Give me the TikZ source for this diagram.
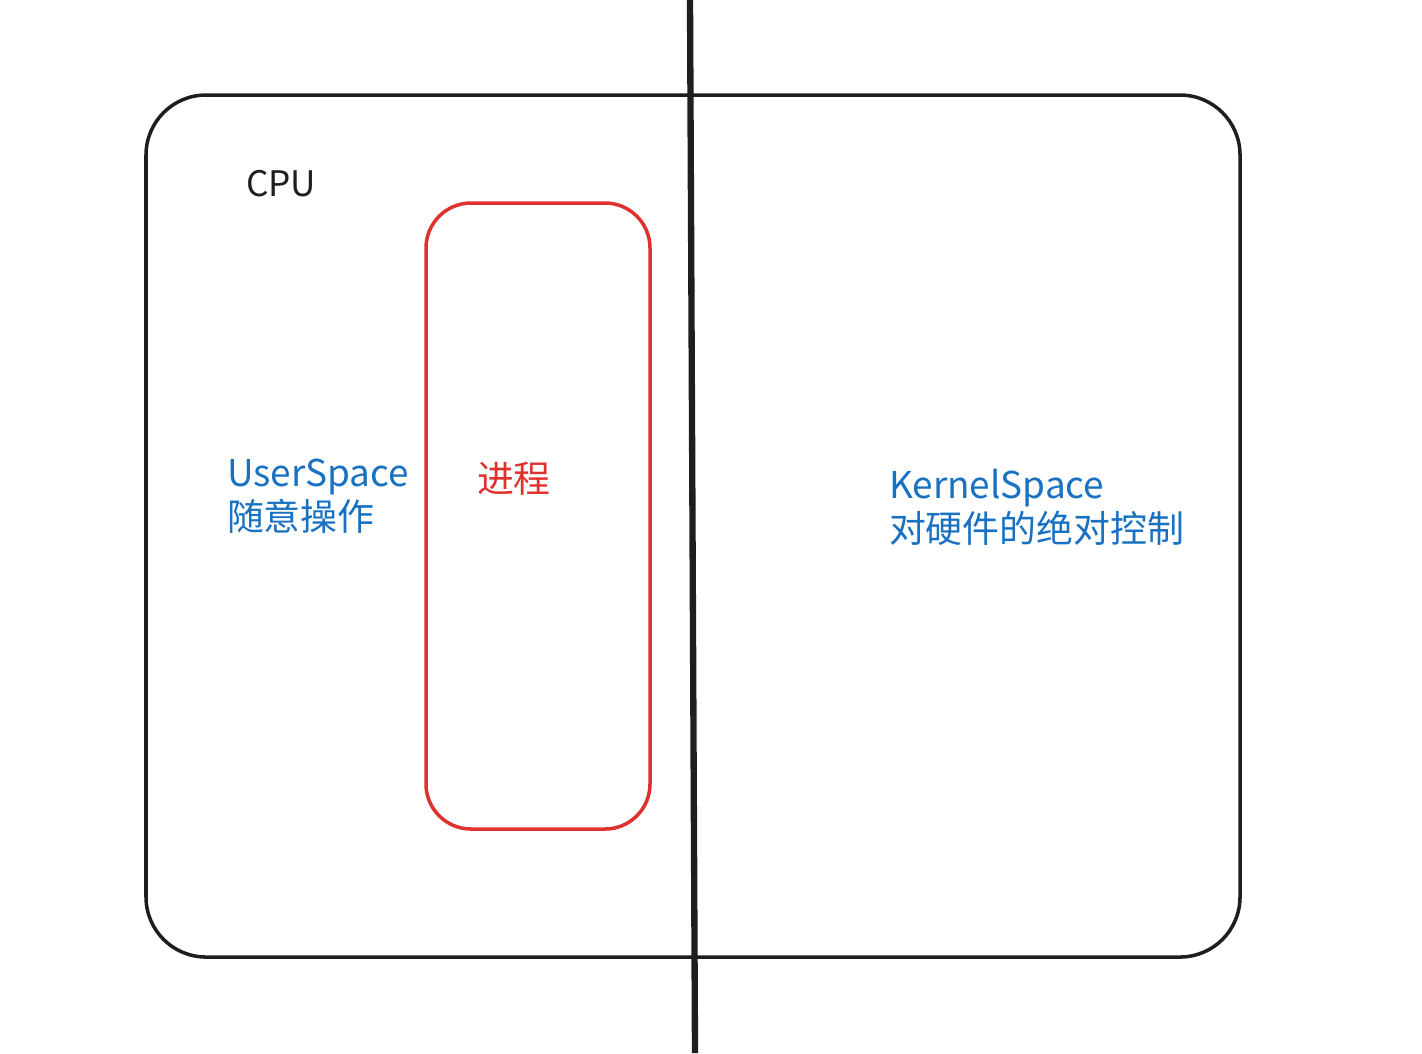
\documentclass[tikz,border=0pt]{standalone}
\usepackage{fontspec}
\setmainfont{Noto Sans CJK SC}
\usepackage{tikz}
\usetikzlibrary{positioning}
\definecolor{myblue}{RGB}{25, 113, 194}
\definecolor{myred}{RGB}{224, 49, 49}
\definecolor{myblack}{RGB}{30, 30, 30}
\tikzstyle{frame} = [draw=myblack, line width=1pt, rounded corners=0.6cm]
\tikzstyle{proc} = [draw=myred, line width=1pt, rounded corners=0.45cm]
\tikzstyle{divider} = [draw=myblack, line width=1.8pt]
\tikzstyle{bluetext} = [inner sep=0, outer sep=0, text=myblue, align=left,
    font=\fontsize{10.5pt}{12.4pt}\selectfont]
\tikzstyle{redtext} = [inner sep=0, outer sep=0, text=myred,
    font=\fontsize{10.5pt}{12.4pt}\selectfont]
\tikzstyle{label} = [inner sep=0, outer sep=0, text=myblack,
    font=\fontsize{10pt}{12pt}\selectfont]

\begin{document}
\begin{tikzpicture}[x=0.01cm, y=-0.01cm]
    \useasboundingbox (0,0) rectangle (1422,1053);

    % 1. Outer CPU box and the process box
    \draw[frame] (146,95) rectangle (1240,957);
    \draw[proc] (426,203) rectangle (650,829);

    % 2. Line between user and kernel side
    \coordinate (top) at (690,0);
    \coordinate (bottom) at (695,1053);
    \draw[divider] (top) -- (bottom);

    % 3. Texts
    \node[label, anchor=north west] (cpu) at (246,170) {CPU};
    \node[bluetext, anchor=north west] (user) at (227,459) {UserSpace\\随意操作};
    \node[redtext, anchor=north west] (proc) at (477,462) {进程};
    \node[bluetext, anchor=north west] (kernel) at (889,469) {KernelSpace\\对硬件的绝对控制};

\end{tikzpicture}
\end{document}
